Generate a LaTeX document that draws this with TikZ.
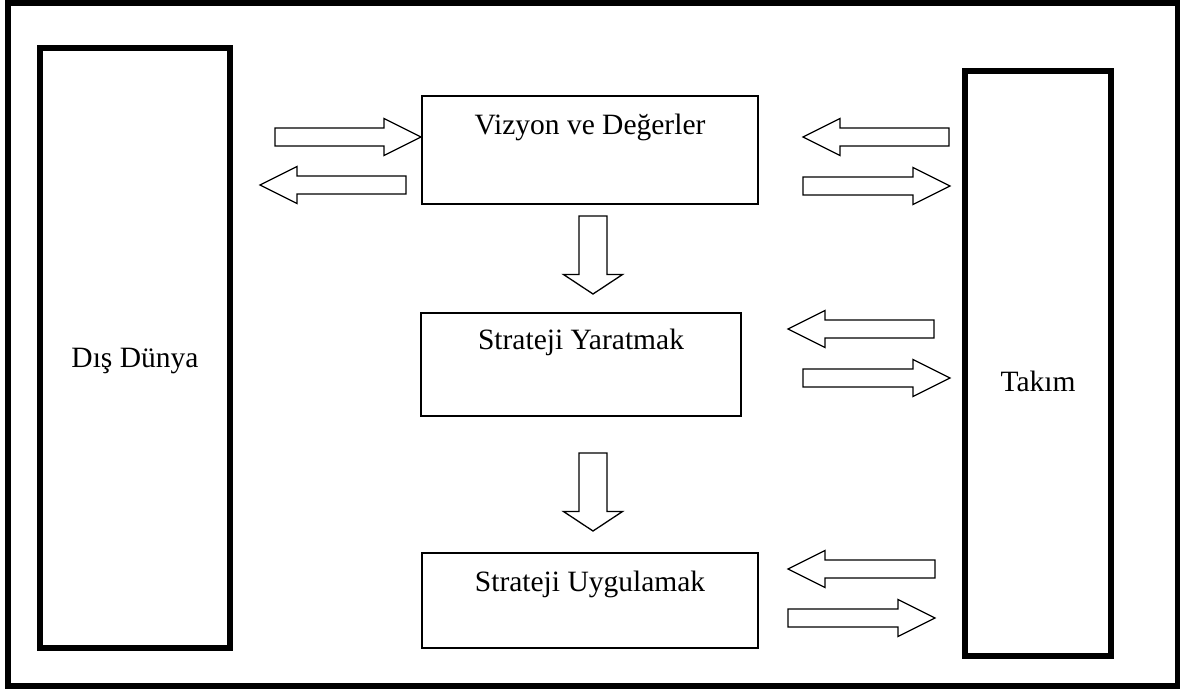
\documentclass[tikz,border=0pt]{standalone}
\usepackage{fontspec}
\setmainfont{Liberation Serif}
\usepackage{tikz}
\usetikzlibrary{calc}

\tikzset{
	wall/.style={draw, line width=6pt, inner sep=0pt, font=\fontsize{29.5}{35}\selectfont},
	box/.style={draw, line width=1.5pt, inner sep=0pt, anchor=north, font=\fontsize{29.5}{35}\selectfont},
	fat/.style={draw, line width=1.3pt, fill=white, line join=miter}
}

% #1 tail, #2 tip, #3 shaft half width, #4 head half width, #5 head length
\newcommand{\blockarrow}[5]{%
	\coordinate (hb) at ($(#2)!#5!(#1)$);
	\draw [fat] ($(#1)!#3!90:(#2)$) -- ($(hb)!#3!90:(#2)$) -- ($(hb)!#4!90:(#2)$) -- (#2)
		-- ($(hb)!#4!-90:(#2)$) -- ($(hb)!#3!-90:(#2)$) -- ($(#1)!#3!-90:(#2)$) -- cycle;
}

\begin{document}
\begin{tikzpicture}[x=1pt, y=-1pt]
	\useasboundingbox (0,0) rectangle (1193,688);
	\draw [line width=5.5pt] (8,3) rectangle (1177.5,686);

	\node [wall, minimum width=190pt, text height=319pt, text depth=281pt] (dis) at (135,348) {Dış Dünya};
	\node [wall, minimum width=146pt, text height=320pt, text depth=265pt] (takim) at (1038,363.5) {Takım};
	\node [box, minimum width=336pt, text height=39pt, text depth=69pt] (vizyon) at (590,95) {Vizyon ve Değerler};
	\node [box, minimum width=320pt, text height=37pt, text depth=66pt] (yaratmak) at (581,312) {Strateji Yaratmak};
	\node [box, minimum width=336pt, text height=39pt, text depth=56pt] (uygulamak) at (590,552) {Strateji Uygulamak};

	% arrow ends
	\coordinate (d1) at (275,137);   \coordinate (v1) at (421,137);
	\coordinate (v2) at (406,185);   \coordinate (d2) at (260,185);
	\coordinate (t1) at (949,137);   \coordinate (v3) at (803,137);
	\coordinate (v4) at (803,186);   \coordinate (t2) at (950,186);
	\coordinate (t3) at (934,329);   \coordinate (y1) at (788,329);
	\coordinate (y2) at (803,378);   \coordinate (t4) at (950,378);
	\coordinate (t5) at (935,569);   \coordinate (u1) at (788,569);
	\coordinate (u2) at (788,618);   \coordinate (t6) at (935,618);
	\coordinate (v5) at (593,216);   \coordinate (y3) at (593,294);
	\coordinate (y4) at (593,453);   \coordinate (u3) at (593,531);

	\blockarrow{d1}{v1}{9pt}{18.5pt}{37pt}
	\blockarrow{v2}{d2}{9pt}{18.5pt}{37pt}
	\blockarrow{t1}{v3}{9pt}{18.5pt}{37pt}
	\blockarrow{v4}{t2}{9pt}{18.5pt}{37pt}
	\blockarrow{t3}{y1}{9pt}{18.5pt}{37pt}
	\blockarrow{y2}{t4}{9pt}{18.5pt}{37pt}
	\blockarrow{t5}{u1}{9pt}{18.5pt}{37pt}
	\blockarrow{u2}{t6}{9pt}{18.5pt}{37pt}
	\blockarrow{v5}{y3}{14pt}{29.5pt}{19.5pt}
	\blockarrow{y4}{u3}{14pt}{29.5pt}{19.5pt}
\end{tikzpicture}
\end{document}
